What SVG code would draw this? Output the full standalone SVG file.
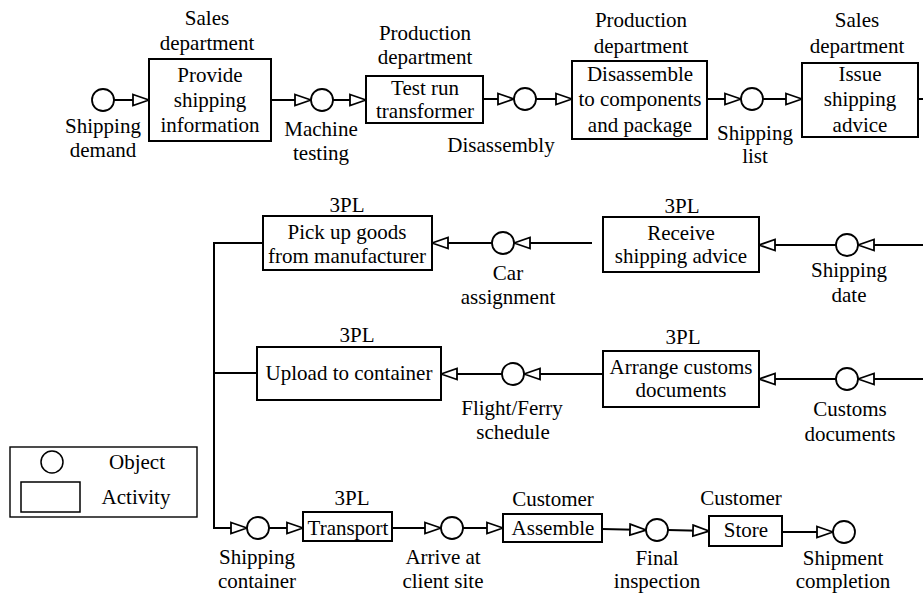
<svg xmlns="http://www.w3.org/2000/svg" width="923" height="593" viewBox="0 0 923 593">
<style>
.box{fill:#fff;stroke:#000;stroke-width:2}
.obj{fill:#fff;stroke:#000;stroke-width:1.8}
.leg{fill:#fff;stroke:#000;stroke-width:1.4}
.conn{fill:none;stroke:#000;stroke-width:2}
.t text{font-size:21px;fill:#000;text-anchor:middle}
</style>
<defs>
<marker id="arr" markerUnits="userSpaceOnUse" viewBox="0 0 18 14" markerWidth="18" markerHeight="14" refX="17" refY="7" orient="auto">
<path d="M1,1.5 L17,7 L1,12.5 Z" fill="#fff" stroke="#000" stroke-width="1.8"/>
</marker>
</defs>
<rect width="923" height="593" fill="#fff"/>

<g id="connectors">
<path class="conn" d="M114,100 H149" marker-end="url(#arr)"/>
<path class="conn" d="M271,100 H311" marker-end="url(#arr)"/>
<path class="conn" d="M333,100 H366" marker-end="url(#arr)"/>
<path class="conn" d="M483,99 H514" marker-end="url(#arr)"/>
<path class="conn" d="M536,99 H572" marker-end="url(#arr)"/>
<path class="conn" d="M707,99 H741" marker-end="url(#arr)"/>
<path class="conn" d="M763,99 H802" marker-end="url(#arr)"/>
<path class="conn" d="M918,99 H923"/>
<path class="conn" d="M923,245 H858" marker-end="url(#arr)"/>
<path class="conn" d="M836,245 H759" marker-end="url(#arr)"/>
<path class="conn" d="M592,243 H514" marker-end="url(#arr)"/>
<path class="conn" d="M492,243 H432" marker-end="url(#arr)"/>
<path class="conn" d="M263,243 H214 V528 H247" marker-end="url(#arr)"/>
<path class="conn" d="M214,373 H257"/>
<path class="conn" d="M923,379 H858" marker-end="url(#arr)"/>
<path class="conn" d="M836,379 H759" marker-end="url(#arr)"/>
<path class="conn" d="M602,374 H524" marker-end="url(#arr)"/>
<path class="conn" d="M502,374 H441" marker-end="url(#arr)"/>
<path class="conn" d="M269,528 H303" marker-end="url(#arr)"/>
<path class="conn" d="M392,528 H441" marker-end="url(#arr)"/>
<path class="conn" d="M463,528 H503" marker-end="url(#arr)"/>
<path class="conn" d="M602,529 L646,530" marker-end="url(#arr)"/>
<path class="conn" d="M668,530 L709,531" marker-end="url(#arr)"/>
<path class="conn" d="M782,532 H833" marker-end="url(#arr)"/>
</g>

<g class="t" font-family="'Liberation Serif', 'DejaVu Serif', 'Times New Roman', serif">
<g id="obj-shipping-demand">
<circle class="obj" cx="103" cy="100" r="11"/>
<text x="103" y="133">Shipping</text>
<text x="103" y="157">demand</text>
</g>
<g id="act-provide-shipping-info">
<text x="207" y="25">Sales</text>
<text x="207" y="50">department</text>
<rect class="box" x="149" y="59" width="122" height="82"/>
<text x="210" y="82">Provide</text>
<text x="210" y="107">shipping</text>
<text x="210" y="132">information</text>
</g>
<g id="obj-machine-testing">
<circle class="obj" cx="322" cy="100" r="11"/>
<text x="321" y="136">Machine</text>
<text x="321" y="160">testing</text>
</g>
<g id="act-test-run">
<text x="425" y="40">Production</text>
<text x="425" y="64">department</text>
<rect class="box" x="366" y="76" width="117" height="47"/>
<text x="425" y="95">Test run</text>
<text x="425" y="118">transformer</text>
</g>
<g id="obj-disassembly">
<circle class="obj" cx="525" cy="99" r="11"/>
<text x="501" y="152">Disassembly</text>
</g>
<g id="act-disassemble">
<text x="641" y="27">Production</text>
<text x="641" y="53">department</text>
<rect class="box" x="572" y="61" width="135" height="78"/>
<text x="640" y="81">Disassemble</text>
<text x="640" y="106">to components</text>
<text x="640" y="132">and package</text>
</g>
<g id="obj-shipping-list">
<circle class="obj" cx="752" cy="99" r="11"/>
<text x="755" y="140">Shipping</text>
<text x="755" y="163">list</text>
</g>
<g id="act-issue-shipping-advice">
<text x="857" y="27">Sales</text>
<text x="857" y="53">department</text>
<rect class="box" x="802" y="63" width="116" height="74"/>
<text x="860" y="81">Issue</text>
<text x="860" y="106">shipping</text>
<text x="860" y="132">advice</text>
</g>

<g id="obj-shipping-date">
<circle class="obj" cx="847" cy="245" r="11"/>
<text x="849" y="277">Shipping</text>
<text x="849" y="302">date</text>
</g>
<g id="act-receive-shipping-advice">
<text x="682" y="213">3PL</text>
<rect class="box" x="603" y="217" width="156" height="55"/>
<text x="681" y="240">Receive</text>
<text x="681" y="263">shipping advice</text>
</g>
<g id="obj-car-assignment">
<circle class="obj" cx="503" cy="243" r="11"/>
<text x="508" y="280">Car</text>
<text x="508" y="304">assignment</text>
</g>
<g id="act-pick-up-goods">
<text x="347" y="212">3PL</text>
<rect class="box" x="263" y="216" width="169" height="54"/>
<text x="347" y="239">Pick up goods</text>
<text x="347" y="263">from manufacturer</text>
</g>

<g id="obj-customs-documents">
<circle class="obj" cx="847" cy="379" r="11"/>
<text x="850" y="416">Customs</text>
<text x="850" y="441">documents</text>
</g>
<g id="act-arrange-customs">
<text x="683" y="344">3PL</text>
<rect class="box" x="603" y="351" width="156" height="56"/>
<text x="681" y="374">Arrange customs</text>
<text x="681" y="397">documents</text>
</g>
<g id="obj-flight-ferry">
<circle class="obj" cx="513" cy="374" r="11"/>
<text x="512" y="415">Flight/Ferry</text>
<text x="513" y="439">schedule</text>
</g>
<g id="act-upload-container">
<text x="357" y="342">3PL</text>
<rect class="box" x="257" y="347" width="184" height="53"/>
<text x="349" y="380">Upload to container</text>
</g>

<g id="obj-shipping-container">
<circle class="obj" cx="258" cy="528" r="11"/>
<text x="257" y="564">Shipping</text>
<text x="257" y="588">container</text>
</g>
<g id="act-transport">
<text x="352" y="505">3PL</text>
<rect class="box" x="303" y="512" width="89" height="29"/>
<text x="348" y="535">Transport</text>
</g>
<g id="obj-arrive-client-site">
<circle class="obj" cx="452" cy="528" r="11"/>
<text x="443" y="564">Arrive at</text>
<text x="443" y="588">client site</text>
</g>
<g id="act-assemble">
<text x="553" y="506">Customer</text>
<rect class="box" x="503" y="514" width="99" height="28"/>
<text x="553" y="535">Assemble</text>
</g>
<g id="obj-final-inspection">
<circle class="obj" cx="657" cy="530" r="11"/>
<text x="657" y="565">Final</text>
<text x="657" y="588">inspection</text>
</g>
<g id="act-store">
<text x="741" y="505">Customer</text>
<rect class="box" x="709" y="516" width="73" height="30"/>
<text x="746" y="537">Store</text>
</g>
<g id="obj-shipment-completion">
<circle class="obj" cx="844" cy="532" r="11"/>
<text x="843" y="565">Shipment</text>
<text x="843" y="588">completion</text>
</g>

<g id="legend">
<rect class="leg" x="10" y="447" width="187" height="70"/>
<circle class="obj" cx="52" cy="462" r="11" style="stroke-width:1.5"/>
<rect class="obj" x="21" y="482" width="59" height="30" style="stroke-width:1.5"/>
<text x="137" y="469">Object</text>
<text x="136" y="504">Activity</text>
</g>
</g>
</svg>
